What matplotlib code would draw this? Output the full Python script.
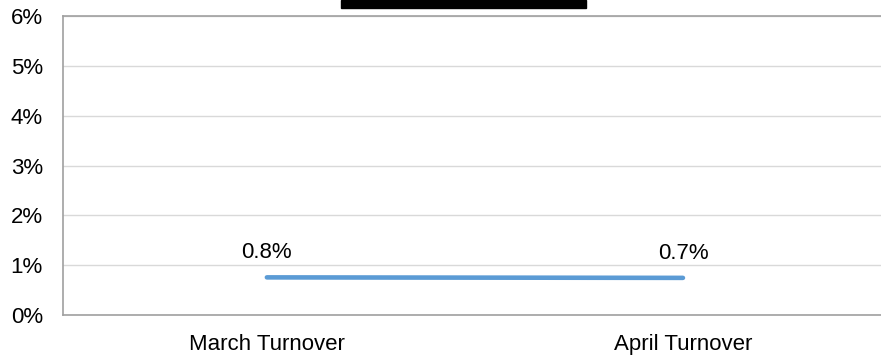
import matplotlib
matplotlib.use("Agg")
import matplotlib.pyplot as plt
from matplotlib.patches import Rectangle

categories = ["March Turnover", "April Turnover"]
values = [0.755, 0.745]
value_labels = ["0.8%", "0.7%"]
y_ticks = [0, 1, 2, 3, 4, 5, 6]
y_tick_labels = ["0%", "1%", "2%", "3%", "4%", "5%", "6%"]

plt.rcParams['font.family'] = ['Liberation Sans', 'DejaVu Sans']
FS = 16

fig = plt.figure(figsize=(8.81, 3.59), dpi=100)
ax = fig.add_axes([63/881, 1-315/359, 1-63/881, (315-16)/359])

x = list(range(len(categories)))
ax.plot(x, values, color="#5B9BD5", linewidth=3.3, solid_capstyle="round", zorder=3)
for xi, v, lab in zip(x, values, value_labels):
    ax.annotate(lab, (xi, v), xytext=(0, 13.7), textcoords="offset points",
                ha="center", va="baseline", fontsize=FS, color="black")

ax.set_xlim(-0.49, 1.476)
ax.set_ylim(0, 6)
ax.set_yticks(y_ticks)
ax.set_yticklabels(y_tick_labels, fontsize=FS)
ax.set_xticks(x)
ax.set_xticklabels(categories, fontsize=FS)
ax.tick_params(axis="both", length=0)
ax.tick_params(axis="x", pad=13.5)
ax.tick_params(axis="y", pad=14.4)

ax.grid(axis="y", color="#D9D9D9", linewidth=1)
ax.set_axisbelow(True)
for s in ["left", "bottom", "top"]:
    ax.spines[s].set_color("#A0A0A0")
    ax.spines[s].set_linewidth(1.2)
ax.spines["right"].set_visible(False)

fig.patches.append(Rectangle((341/881, 1-8/359), (586-341)/881, 8/359,
                             transform=fig.transFigure, color="black", zorder=10))

fig.savefig("out.png", dpi=100)
